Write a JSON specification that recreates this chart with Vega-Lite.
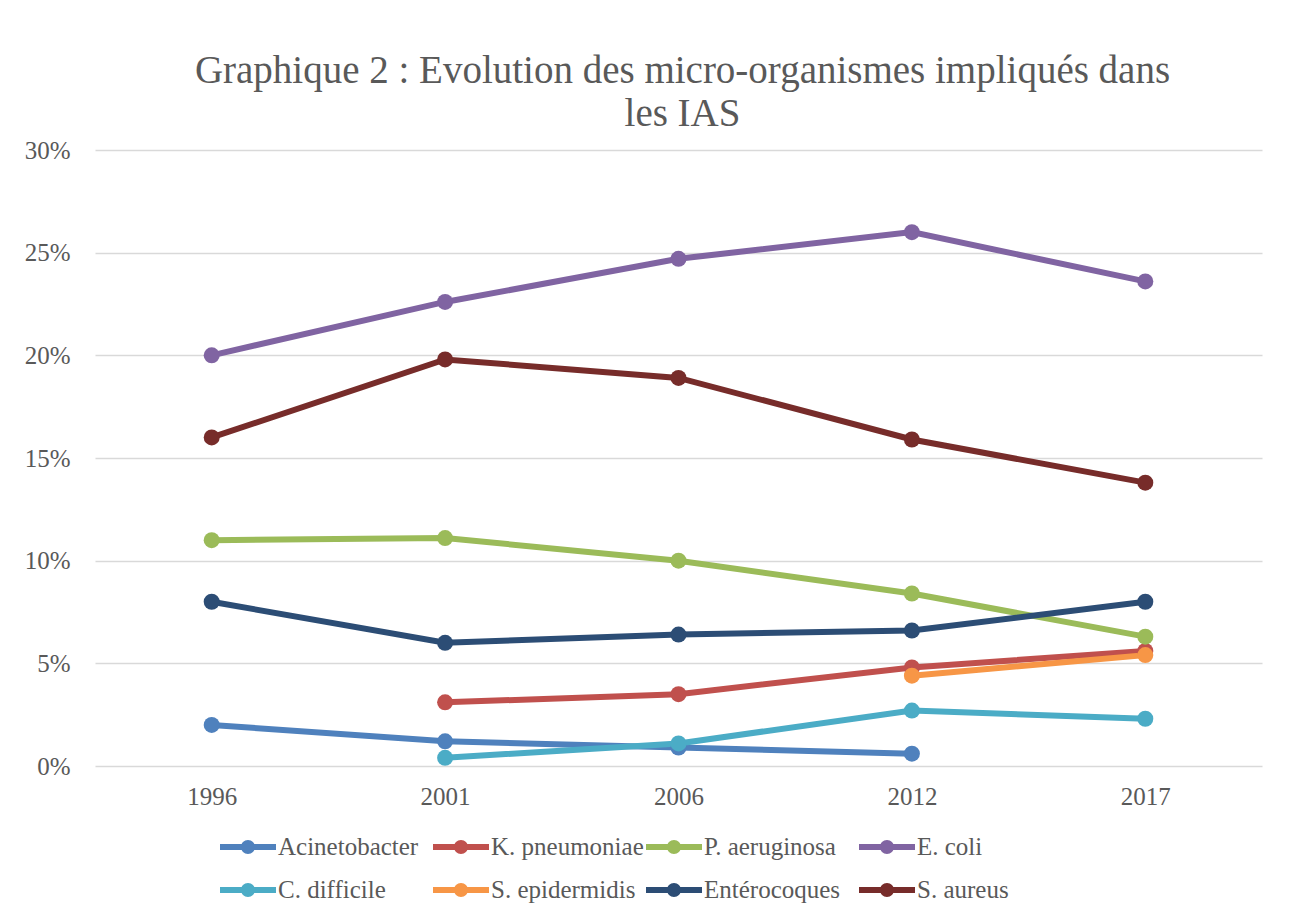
{
  "$schema": "https://vega.github.io/schema/vega-lite/v6.json",
  "width": 1167,
  "height": 616,
  "autosize": {"type": "none"},
  "padding": {"left": 95, "top": 150, "right": 27, "bottom": 152},
  "background": "white",
  "config": {
    "font": "Liberation Serif",
    "view": {"stroke": null}
  },
  "title": {
    "text": ["Graphique 2 : Evolution des micro-organismes impliqués dans", "les IAS"],
    "anchor": "middle",
    "frame": "group",
    "fontSize": 39,
    "fontWeight": "normal",
    "color": "#595959",
    "lineHeight": 43,
    "offset": 4,
    "dx": 4
  },
  "data": {
    "values": [
      {"serie": "Acinetobacter", "annee": "1996", "valeur": 0.020},
      {"serie": "Acinetobacter", "annee": "2001", "valeur": 0.012},
      {"serie": "Acinetobacter", "annee": "2006", "valeur": 0.009},
      {"serie": "Acinetobacter", "annee": "2012", "valeur": 0.006},
      {"serie": "K. pneumoniae", "annee": "2001", "valeur": 0.031},
      {"serie": "K. pneumoniae", "annee": "2006", "valeur": 0.035},
      {"serie": "K. pneumoniae", "annee": "2012", "valeur": 0.048},
      {"serie": "K. pneumoniae", "annee": "2017", "valeur": 0.056},
      {"serie": "P. aeruginosa", "annee": "1996", "valeur": 0.110},
      {"serie": "P. aeruginosa", "annee": "2001", "valeur": 0.111},
      {"serie": "P. aeruginosa", "annee": "2006", "valeur": 0.100},
      {"serie": "P. aeruginosa", "annee": "2012", "valeur": 0.084},
      {"serie": "P. aeruginosa", "annee": "2017", "valeur": 0.063},
      {"serie": "E. coli", "annee": "1996", "valeur": 0.200},
      {"serie": "E. coli", "annee": "2001", "valeur": 0.226},
      {"serie": "E. coli", "annee": "2006", "valeur": 0.247},
      {"serie": "E. coli", "annee": "2012", "valeur": 0.260},
      {"serie": "E. coli", "annee": "2017", "valeur": 0.236},
      {"serie": "C. difficile", "annee": "2001", "valeur": 0.004},
      {"serie": "C. difficile", "annee": "2006", "valeur": 0.011},
      {"serie": "C. difficile", "annee": "2012", "valeur": 0.027},
      {"serie": "C. difficile", "annee": "2017", "valeur": 0.023},
      {"serie": "S. epidermidis", "annee": "2012", "valeur": 0.044},
      {"serie": "S. epidermidis", "annee": "2017", "valeur": 0.054},
      {"serie": "Entérocoques", "annee": "1996", "valeur": 0.080},
      {"serie": "Entérocoques", "annee": "2001", "valeur": 0.060},
      {"serie": "Entérocoques", "annee": "2006", "valeur": 0.064},
      {"serie": "Entérocoques", "annee": "2012", "valeur": 0.066},
      {"serie": "Entérocoques", "annee": "2017", "valeur": 0.080},
      {"serie": "S. aureus", "annee": "1996", "valeur": 0.160},
      {"serie": "S. aureus", "annee": "2001", "valeur": 0.198},
      {"serie": "S. aureus", "annee": "2006", "valeur": 0.189},
      {"serie": "S. aureus", "annee": "2012", "valeur": 0.159},
      {"serie": "S. aureus", "annee": "2017", "valeur": 0.138}
    ]
  },
  "encoding": {
    "x": {
      "field": "annee",
      "type": "ordinal",
      "scale": {"type": "point", "padding": 0.5},
      "axis": {
        "title": null,
        "labelAngle": 0,
        "ticks": false,
        "domain": false,
        "labelFontSize": 25,
        "labelColor": "#595959",
        "labelPadding": 18
      }
    },
    "y": {
      "field": "valeur",
      "type": "quantitative",
      "scale": {"domain": [0, 0.3], "nice": false},
      "axis": {
        "title": null,
        "values": [0, 0.05, 0.1, 0.15, 0.2, 0.25, 0.3],
        "format": ".0%",
        "ticks": false,
        "domain": false,
        "grid": true,
        "gridColor": "#D9D9D9",
        "gridWidth": 1.5,
        "labelFontSize": 25,
        "labelColor": "#595959",
        "labelPadding": 25
      }
    },
    "color": {
      "field": "serie",
      "type": "nominal",
      "scale": {
        "domain": ["Acinetobacter", "K. pneumoniae", "P. aeruginosa", "E. coli", "C. difficile", "S. epidermidis", "Entérocoques", "S. aureus"],
        "range": ["#4F81BD", "#C0504D", "#9BBB59", "#8064A2", "#4BACC6", "#F79646", "#2C4D75", "#772C2A"]
      },
      "legend": {
        "title": null,
        "orient": "none",
        "legendX": 125,
        "legendY": 669,
        "direction": "horizontal",
        "columns": 4,
        "gridAlign": "all",
        "columnPadding": 2,
        "rowPadding": 2,
        "labelFontSize": 25,
        "labelColor": "#595959",
        "labelOffset": 2,
        "symbolType": "M-1,-0.105L1,-0.105L1,0.105L-1,0.105Z M0.25,0A0.25,0.25 0 1,1 -0.25,0A0.25,0.25 0 1,1 0.25,0Z",
        "symbolSize": 3136,
        "symbolStrokeWidth": 0,
        "encode": {
          "symbols": {"update": {"fill": {"scale": "color", "field": "value"}, "opacity": {"value": 1}}}
        }
      }
    }
  },
  "layer": [
    {"mark": {"type": "line", "strokeWidth": 6}},
    {"mark": {"type": "circle", "size": 256, "opacity": 1}}
  ]
}
